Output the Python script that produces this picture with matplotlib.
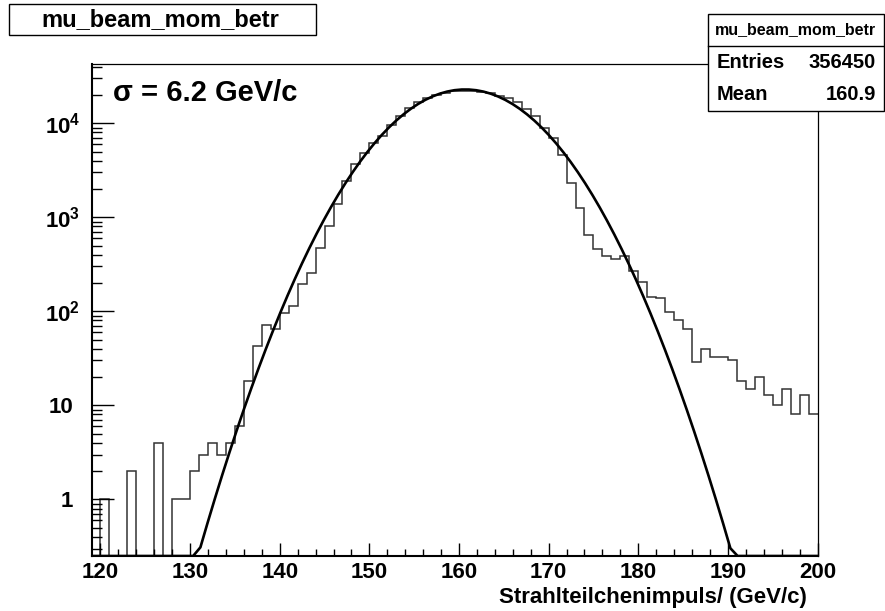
import matplotlib.pyplot as plt
import numpy as np
from matplotlib.patches import Rectangle
from matplotlib.ticker import FixedLocator, LogLocator, NullFormatter
from matplotlib.transforms import ScaledTranslation

plt.rcParams['font.family'] = ['Liberation Sans', 'DejaVu Sans']
plt.rcParams['font.weight'] = 'bold'
plt.rcParams['mathtext.fontset'] = 'custom'
plt.rcParams['mathtext.rm'] = 'Liberation Sans:bold'
plt.rcParams['mathtext.bf'] = 'Liberation Sans:bold'
plt.rcParams['mathtext.default'] = 'bf'

W, H = 885, 611

# histogram: 1 GeV/c bins starting at 119
bin_low = 119
counts = [
    0, 1, 0, 0, 2, 0, 0, 4, 0, 1,            # 119-128
    1, 2, 3, 4, 3, 4, 6, 18, 43, 71,         # 129-138
    65, 97, 114, 194, 253, 467, 812, 1380, 2440, 3650,   # 139-148
    4780, 6100, 7300, 9480, 11900, 14580, 16640, 18600, 20000, 21000,  # 149-158
    21900, 22100, 22100, 21570, 20740, 19730, 18600, 16870, 14360, 11900,  # 159-168
    8930, 6890, 4580, 2290, 1250, 650, 456, 385, 362, 383,   # 169-178
    270, 205, 142, 138, 99, 81, 65, 29, 40, 33,   # 179-188
    33, 30, 18, 15, 20, 13, 10, 15, 8, 13,        # 189-198
    8,                                            # 199
]
edges = np.arange(bin_low, bin_low + len(counts) + 1)

# gaussian fit
fit_amp, fit_mu, fit_sigma = 22900, 160.7, 6.24
entries = 356450
mean = 160.9

xticks = list(range(120, 201, 10))
yticks = [1, 10, 100, 1000, 10000]
ytick_labels = ['1', '10', '$10^{2}$', '$10^{3}$', '$10^{4}$']

xmin, xmax = 119, 200
ymin, ymax = 0.25, 42700

fig = plt.figure(figsize=(W / 100, H / 100), dpi=100)
ax = fig.add_axes([91.5 / W, 1 - 556 / H, (817.5 - 91.5) / W, (556 - 64) / H])

vals = np.array(counts, dtype=float)
vals[vals <= 0] = 1e-3
ax.stairs(vals, edges, baseline=None, color='#333333', lw=1.1)

xf = np.linspace(xmin, xmax, 101)
yf = fit_amp * np.exp(-0.5 * ((xf - fit_mu) / fit_sigma) ** 2)
yf = np.maximum(yf, ymin)
ax.plot(xf, yf, color='black', lw=1.9)

ax.set_yscale('log')
ax.set_xlim(xmin, xmax)
ax.set_ylim(ymin, ymax)

ax.xaxis.set_major_locator(FixedLocator(xticks))
ax.xaxis.set_minor_locator(FixedLocator(range(120, 201, 2)))
ax.set_xticklabels([str(t) for t in xticks])
ax.yaxis.set_major_locator(FixedLocator(yticks))
ax.yaxis.set_minor_locator(LogLocator(base=10, subs=np.arange(2, 10), numticks=20))
ax.yaxis.set_minor_formatter(NullFormatter())
ax.set_yticklabels(ytick_labels)

ax.tick_params(axis='x', which='major', direction='in', length=9.5, width=1,
               labelsize=16, pad=4)
ax.tick_params(axis='x', which='minor', direction='in', length=5, width=1)
ax.tick_params(axis='y', which='major', direction='in', length=15.5, width=1,
               labelsize=16, pad=8)
ax.tick_params(axis='y', which='minor', direction='in', length=7.2, width=1)

# plain labels sit where the base "10" of the powers sits (exponent overhangs)
shift = ScaledTranslation(-7 / 100, 0, fig.dpi_scale_trans)
for lab in ax.get_yticklabels():
    if '^' not in lab.get_text():
        lab.set_transform(lab.get_transform() + shift)

for side in ['left', 'bottom']:
    ax.spines[side].set_linewidth(1.5)
for side in ['top', 'right']:
    ax.spines[side].set_linewidth(0.9)

# sigma annotation
fig.text(113 / W, 1 - 93 / H, 'σ = 6.2 GeV/c', fontsize=21, ha='left', va='center')

# x axis title
fig.text(807 / W, 1 - 597 / H, 'Strahlteilchenimpuls/ (GeV/c)', fontsize=16,
         ha='right', va='center')

# title box
fig.patches.append(Rectangle((9 / W, 1 - 35 / H), (316 - 9) / W, (35 - 4) / H,
                             transform=fig.transFigure, facecolor='white',
                             edgecolor='black', lw=1, zorder=5))
fig.text(160 / W, 1 - 20 / H, 'mu_beam_mom_betr', fontsize=17, ha='center',
         va='center', zorder=6)

# stats box
fig.patches.append(Rectangle((708 / W, 1 - 111 / H), (884 - 708) / W, (111 - 14) / H,
                             transform=fig.transFigure, facecolor='white',
                             edgecolor='black', lw=1, zorder=5))
fig.lines.append(plt.Line2D([708 / W, 884 / W], [1 - 46 / H, 1 - 46 / H],
                            transform=fig.transFigure, color='black', lw=1, zorder=6))
fig.text(795 / W, 1 - 30 / H, 'mu_beam_mom_betr', fontsize=11.5, ha='center',
         va='center', zorder=6)
fig.text(717 / W, 1 - 63 / H, 'Entries', fontsize=14.5, ha='left', va='center', zorder=6)
fig.text(876 / W, 1 - 63 / H, str(entries), fontsize=14.5, ha='right', va='center', zorder=6)
fig.text(717 / W, 1 - 95 / H, 'Mean', fontsize=14.5, ha='left', va='center', zorder=6)
fig.text(876 / W, 1 - 95 / H, f'{mean:.1f}', fontsize=14.5, ha='right', va='center', zorder=6)

plt.savefig('out.png', dpi=100)
